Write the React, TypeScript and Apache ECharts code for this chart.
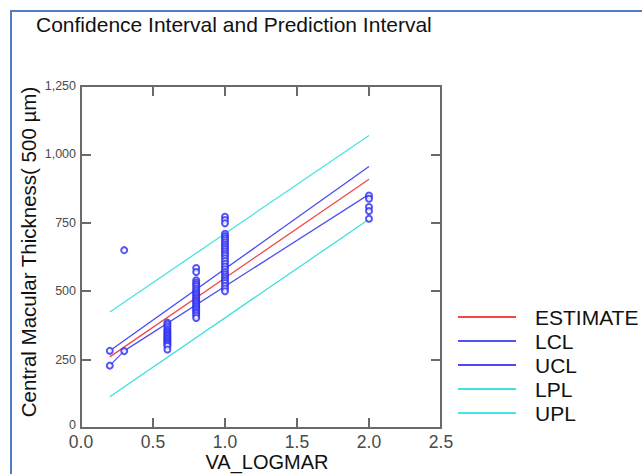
import React, { useEffect, useRef } from "react";
import * as echarts from "echarts";

const title = "Confidence Interval and Prediction Interval";
const xName = "VA_LOGMAR";
const yName = "Central Macular Thickness( 500 µm)";

const xAt02 = [282, 228];
const xAt03 = [281, 650];
const xAt06 = [385, 378, 370, 362, 355, 350, 345, 340, 335, 330, 325, 320, 315, 310, 305, 300, 287];
const xAt08 = [585, 570, 540, 532, 525, 518, 510, 503, 496, 490, 484, 478, 472, 466, 460, 454, 448, 442, 436, 430, 424, 418, 410, 402];
const xAt10 = [772, 760, 748, 710, 702, 694, 686, 678, 670, 662, 654, 646, 638, 630, 620, 610, 600, 590, 580, 570, 562, 554, 546, 538, 530, 520, 510, 500];
const xAt20 = [850, 838, 808, 793, 765];

const estimateLine = [[0.2, 260], [2.0, 909]];
const lclLine = [[0.2, 228], [0.3, 282], [2.0, 854]];
const uclLine = [[0.2, 282], [2.0, 956]];
const lplLine = [[0.2, 114], [2.0, 763]];
const uplLine = [[0.2, 424], [2.0, 1069]];

const legendNames = ["ESTIMATE", "LCL", "UCL", "LPL", "UPL"];

function pts(x: number, ys: number[]) {
  return ys.map((y) => [x, y]);
}

export default function App() {
  const ref = useRef<HTMLDivElement>(null);
  useEffect(() => {
    if (!ref.current) return;
    const chart = echarts.init(ref.current, null, { renderer: "svg" });
    const scatterData = [
      ...pts(0.2, xAt02),
      ...pts(0.3, xAt03),
      ...pts(0.6, xAt06),
      ...pts(0.8, xAt08),
      ...pts(1.0, xAt10),
      ...pts(2.0, xAt20),
    ];
    const font = "Liberation Sans, Arial, sans-serif";
    const narrow = "Liberation Sans Narrow, Liberation Sans, Arial, sans-serif";
    const axisLine = { show: true, onZero: false, lineStyle: { color: "#6a6a6a", width: 2 } };
    const axisTick = { show: true, inside: true, length: 10, lineStyle: { color: "#6a6a6a", width: 2 } };
    const lineSeries = (name: string, data: number[][], color: string) => ({
      name,
      type: "line",
      data,
      showSymbol: false,
      symbol: "none",
      lineStyle: { color, width: 1.3 },
      itemStyle: { color },
      z: 3,
    });
    chart.setOption({
      animation: false,
      backgroundColor: "#fff",
      graphic: [
        {
          type: "rect",
          shape: { x: 11, y: 11, width: 700, height: 500 },
          style: { fill: "none", stroke: "#4f7fbf", lineWidth: 2 },
          silent: true,
        },
        {
          type: "text",
          x: 36,
          y: 24,
          style: {
            text: title,
            font: `21px ${font}`,
            fill: "#111",
            textAlign: "left",
            textVerticalAlign: "middle",
          },
        },
        {
          type: "text",
          x: 267,
          y: 462,
          style: {
            text: xName,
            font: `20px ${font}`,
            fill: "#111",
            textAlign: "center",
            textVerticalAlign: "middle",
          },
        },
        {
          type: "text",
          x: 28,
          y: 252,
          rotation: Math.PI / 2,
          style: {
            text: yName,
            font: `20.5px ${font}`,
            fill: "#111",
            textAlign: "center",
            textVerticalAlign: "middle",
          },
        },
      ],
      legend: {
        orient: "vertical",
        left: 453,
        top: 300,
        icon: "rect",
        itemWidth: 58,
        itemHeight: 2,
        itemGap: 0,
        data: legendNames,
        textStyle: { fontSize: 21, lineHeight: 24, color: "#111", fontFamily: font, padding: [0, 0, 0, 14] },
      },
      grid: { left: 81, right: 201, top: 86, bottom: 46 },
      xAxis: [
        {
          type: "value",
          min: 0,
          max: 2.5,
          interval: 0.5,
          axisLine,
          axisTick,
          splitLine: { show: false },
          axisLabel: {
            color: "#4a4a4a",
            fontSize: 17.5,
            lineHeight: 14,
            fontFamily: font,
            margin: 7,
            formatter: (v: number) => v.toFixed(1),
          },
        },
        {
          type: "value",
          position: "top",
          min: 0,
          max: 2.5,
          interval: 0.5,
          axisLine,
          axisTick,
          splitLine: { show: false },
          axisLabel: { show: false },
        },
      ],
      yAxis: [
        {
          type: "value",
          min: 0,
          max: 1250,
          interval: 250,
          axisLine,
          axisTick,
          splitLine: { show: false },
          axisLabel: {
            color: "#4a4a4a",
            fontSize: 12.5,
            lineHeight: 10,
            fontFamily: narrow,
            margin: 5,
            formatter: (v: number) => (v === 0 ? "{z|0}" : v.toLocaleString("en-US")),
            rich: {
              z: {
                color: "#4a4a4a",
                fontSize: 12.5,
                lineHeight: 10,
                fontFamily: narrow,
                padding: [0, 0, 6, 0],
              },
            },
          },
        },
        {
          type: "value",
          position: "right",
          min: 0,
          max: 1250,
          interval: 250,
          axisLine,
          axisTick,
          splitLine: { show: false },
          axisLabel: { show: false },
        },
      ],
      series: [
        {
          name: "data",
          type: "scatter",
          data: scatterData,
          symbol: "emptyCircle",
          symbolSize: 6,
          itemStyle: { color: "#2b2bf0", borderWidth: 1.4 },
          z: 4,
        },
        lineSeries("ESTIMATE", estimateLine, "#f04848"),
        lineSeries("LCL", lclLine, "#5252f2"),
        lineSeries("UCL", uclLine, "#4a4af0"),
        lineSeries("LPL", lplLine, "#3ee0e0"),
        lineSeries("UPL", uplLine, "#48e4e4"),
      ],
    });
    return () => chart.dispose();
  }, []);
  return <div ref={ref} style={{ position: "absolute", left: 0, top: 0, width: 642, height: 474 }} />;
}
